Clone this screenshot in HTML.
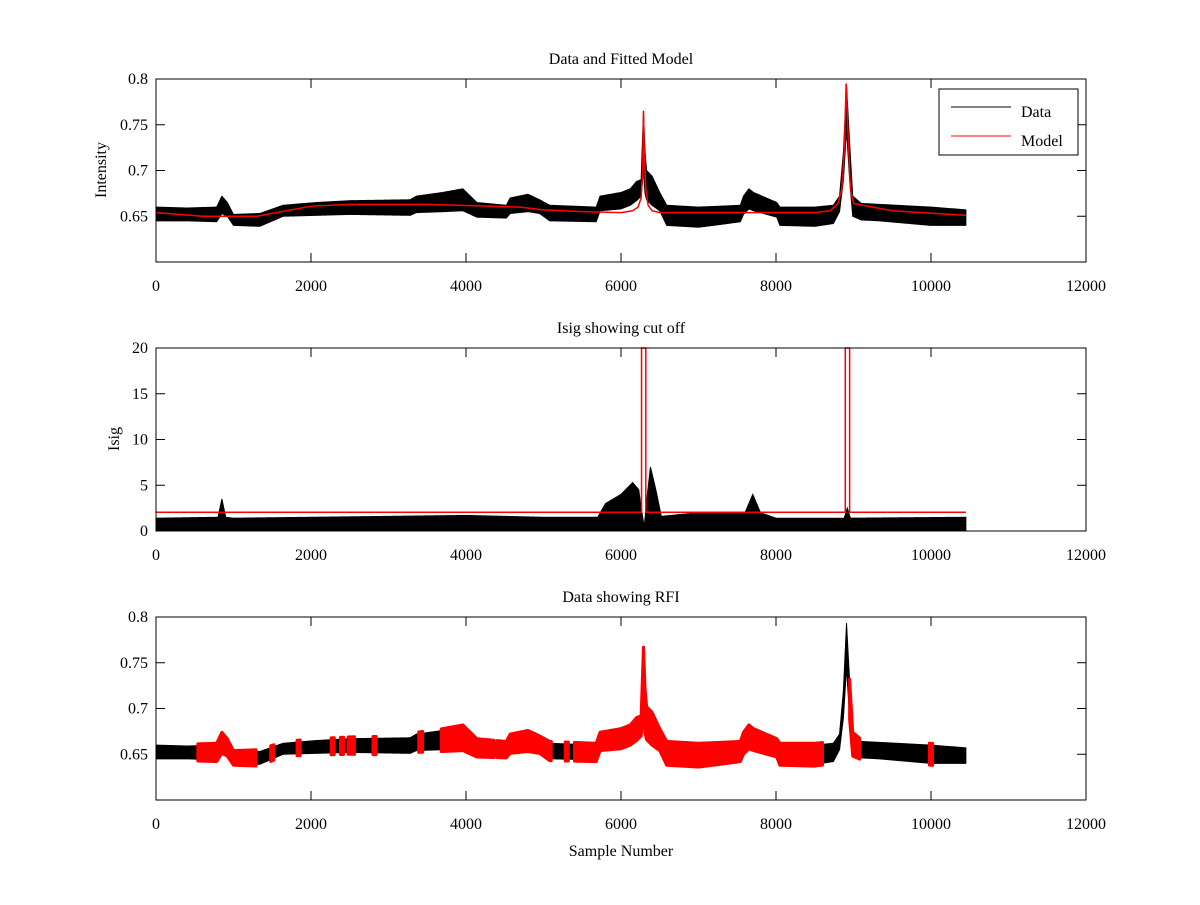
<!DOCTYPE html>
<html><head><meta charset="utf-8"><style>
body{margin:0;background:#fff}
svg text{font-family:"Liberation Serif",serif;font-size:16px;fill:#000}
</style></head><body>
<svg id="c" width="1200" height="900" xmlns="http://www.w3.org/2000/svg"></svg>
<script>
// Data envelopes
const dataX  = [0,400,783,850,920,1000,1340,1640,2070,2500,3280,3360,3700,3960,4140,4520,4570,4800,4950,5080,5680,5730,6000,6120,6200,6260,6290,6310,6330,6400,6500,6590,7000,7280,7540,7580,7650,7710,8010,8050,8500,8740,8820,8870,8910,8950,8990,9100,9330,10000,10450];
const dataLo = [0.645,0.645,0.644,0.653,0.650,0.640,0.639,0.650,0.651,0.652,0.651,0.654,0.655,0.656,0.649,0.648,0.653,0.655,0.653,0.645,0.644,0.656,0.658,0.662,0.667,0.672,0.700,0.675,0.668,0.662,0.656,0.640,0.638,0.641,0.644,0.652,0.658,0.656,0.649,0.640,0.639,0.642,0.655,0.690,0.745,0.690,0.650,0.646,0.645,0.640,0.640];
const dataHi = [0.660,0.659,0.660,0.672,0.665,0.652,0.653,0.662,0.665,0.667,0.668,0.672,0.676,0.680,0.665,0.662,0.670,0.674,0.668,0.662,0.660,0.672,0.676,0.680,0.688,0.690,0.765,0.720,0.700,0.694,0.676,0.662,0.660,0.661,0.662,0.672,0.680,0.676,0.665,0.660,0.660,0.662,0.672,0.720,0.793,0.730,0.672,0.664,0.663,0.660,0.657];
const modelX = [0,600,1300,2000,2500,3500,4700,5000,5500,6000,6150,6220,6260,6280,6290,6300,6320,6350,6400,6500,8500,8700,8800,8850,8880,8905,8930,8960,9000,9500,10450];
const modelY = [0.654,0.650,0.650,0.661,0.663,0.663,0.660,0.657,0.655,0.654,0.656,0.660,0.670,0.700,0.765,0.720,0.680,0.662,0.656,0.654,0.654,0.656,0.664,0.680,0.720,0.795,0.740,0.680,0.664,0.656,0.651];
const isigX  = [0,800,850,900,1000,2000,4000,5000,5700,5800,6000,6150,6230,6260,6300,6340,6380,6450,6520,7000,7600,7700,7800,8000,8880,8920,8960,10450];
const isigHi = [1.4,1.5,3.5,1.5,1.4,1.5,1.7,1.5,1.5,3.0,4.0,5.3,4.5,2.5,0.5,4.0,7.0,4.5,1.6,2.0,2.0,4.0,2.0,1.4,1.4,2.5,1.4,1.5];
const cutLevel = 2.05;
const cutX = [6265,6320,8894,8950];
const rfiRanges = [[540,1290],[1480,1520],[1820,1860],[2260,2300],[2380,2420],[2480,2560],[2800,2840],[3390,3440],[3680,4360],[4400,5100],[5280,5320],[5400,8600],[8950,9080],[9980,10020]];
const xTicks = [0,2000,4000,6000,8000,10000,12000];
const yTicksI = [0.65,0.7,0.75,0.8];
const yTicksS = [0,5,10,15,20];

const svg=document.getElementById('c');
const NS='http://www.w3.org/2000/svg';
function mk(t,a,p){const e=document.createElementNS(NS,t);for(const k in a)e.setAttribute(k,a[k]);(p||svg).appendChild(e);return e;}
function interp(xs,ys,x){if(x<=xs[0])return ys[0];for(let i=1;i<xs.length;i++){if(x<=xs[i]){const t=(x-xs[i-1])/(xs[i]-xs[i-1]);return ys[i-1]+t*(ys[i]-ys[i-1]);}}return ys[ys.length-1];}
const L=156,R=1086;
const xs=v=>L+v*(R-L)/12000;
function panel(top,ymin,ymax,yt,fmt,title,ylab,name){
  const g=mk('g',{});
  
  
  const bot=top+183;
  const ys=v=>bot-(v-ymin)/(ymax-ymin)*183;
  const t=mk('text',{x:621,y:top-15,'text-anchor':'middle'},g);t.textContent=title;
  
  xTicks.forEach(v=>{const x=xs(v);
    mk('line',{x1:x,x2:x,y1:bot,y2:bot-9,stroke:'#000'},g);
    mk('line',{x1:x,x2:x,y1:top,y2:top+9,stroke:'#000'},g);
    const tx=mk('text',{x:x,y:bot+29,'text-anchor':'middle'},g);tx.textContent=v;
    });
  yt.forEach(v=>{const y=ys(v);
    mk('line',{x1:L,x2:L+9,y1:y,y2:y,stroke:'#000'},g);
    mk('line',{x1:R,x2:R-9,y1:y,y2:y,stroke:'#000'},g);
    const ty=mk('text',{x:L-8,y:y+5,'text-anchor':'end'},g);ty.textContent=fmt(v);
    });
  if(ylab){const yl=mk('text',{x:0,y:0,'text-anchor':'middle',transform:`translate(${ylab[1]},${top+91}) rotate(-90)`},g);yl.textContent=ylab[0];
    }
  return {g,ys,top,bot};
}
function band(p,x0,x1,lo,hi,color,sw,pad){
  const pts=[],pts2=[];
  for(let x=x0;x<=x1;x+=10){pts.push(xs(x)+','+p.ys(interp(dataX,lo,x)-pad));pts2.push(xs(x)+','+p.ys(interp(dataX,hi,x)+pad));}
  const e=mk('polygon',{points:pts.concat(pts2.reverse()).join(' '),fill:color,stroke:color,'stroke-width':sw,'stroke-linejoin':'round'},p.g);
  return e;
}
const fmtI=v=>v===0.7?'0.7':v===0.8?'0.8':String(v);
// Panel 1
const p1=panel(79,0.6,0.8,yTicksI,fmtI,'Data and Fitted Model',['Intensity',106],'panel-data-model');
const d1=band(p1,0,10450,dataLo,dataHi,'#000',1,0);


const m1=mk('polyline',{points:modelX.map((x,i)=>xs(x)+','+p1.ys(modelY[i])).join(' '),fill:'none',stroke:'#f00','stroke-width':1.5},p1.g);


mk('rect',{x:L,y:79,width:R-L,height:183,fill:'none',stroke:'#000'},p1.g);
const lg=mk('g',{},p1.g);


mk('rect',{x:939,y:89,width:139,height:66,fill:'#fff',stroke:'#000'},lg);
mk('line',{x1:951,x2:1011,y1:107,y2:107,stroke:'#000'},lg);
mk('line',{x1:951,x2:1011,y1:136,y2:136,stroke:'#f00'},lg);
const lt1=mk('text',{x:1021,y:117},lg);lt1.textContent='Data';

const lt2=mk('text',{x:1021,y:146},lg);lt2.textContent='Model';

// Panel 2
const p2=panel(348,0,20,yTicksS,v=>String(v),'Isig showing cut off',['Isig',119],'panel-isig');
const ip=[];
for(let x=0;x<=10450;x+=10){ip.push(xs(x)+','+p2.ys(interp(isigX,isigHi,x)));}
ip.push(xs(10450)+','+p2.ys(0));ip.push(xs(0)+','+p2.ys(0));
const is=mk('polygon',{points:ip.join(' '),fill:'#000',stroke:'#000','stroke-width':1},p2.g);


const cp=[xs(0)+','+p2.ys(cutLevel)];
for(let i=0;i<cutX.length;i+=2){cp.push(xs(cutX[i])+','+p2.ys(cutLevel),xs(cutX[i])+','+p2.ys(20),xs(cutX[i+1])+','+p2.ys(20),xs(cutX[i+1])+','+p2.ys(cutLevel));}
cp.push(xs(10450)+','+p2.ys(cutLevel));
const cl=mk('polyline',{points:cp.join(' '),fill:'none',stroke:'#f00','stroke-width':1.5},p2.g);


mk('rect',{x:L,y:348,width:R-L,height:183,fill:'none',stroke:'#000'},p2.g);
// Panel 3
const p3=panel(617,0.6,0.8,yTicksI,fmtI,'Data showing RFI',null,'panel-rfi');
const d3=band(p3,0,10450,dataLo,dataHi,'#000',1,0);


rfiRanges.forEach(r=>{
  const e=band(p3,r[0],r[1],dataLo,dataHi,'#f00',3,0.002);
  
  
});
mk('rect',{x:L,y:617,width:R-L,height:183,fill:'none',stroke:'#000'},p3.g);
const xl=mk('text',{x:621,y:856,'text-anchor':'middle'});xl.textContent='Sample Number';


</script>
</body></html>
